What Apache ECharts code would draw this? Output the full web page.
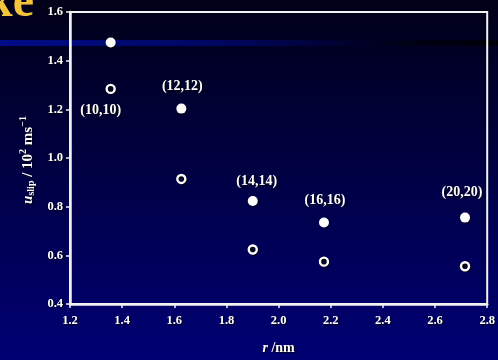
<!DOCTYPE html>
<html>
<head>
<meta charset="utf-8">
<style>
  html, body { margin: 0; padding: 0; background: #000030; }
  #chart { width: 498px; height: 360px; }
</style>
<script src="https://cdn.jsdelivr.net/npm/echarts@6/dist/echarts.min.js"></script>
</head>
<body>
<div id="chart"></div>
<script>
// Nanotube radius (nm) and slip velocity (10^2 m/s)
const radius = [1.356, 1.627, 1.901, 2.174, 2.715];
const slipFilled = [1.475, 1.203, 0.823, 0.735, 0.755];
const slipOpen = [1.284, 0.914, 0.624, 0.574, 0.555];
const tubeLabels = ['(10,10)', '(12,12)', '(14,14)', '(16,16)', '(20,20)'];
const xTicks = [1.2, 1.4, 1.6, 1.8, 2.0, 2.2, 2.4, 2.6, 2.8];
const yTicks = [0.4, 0.6, 0.8, 1.0, 1.2, 1.4, 1.6];

const serif = '"Liberation Serif", "DejaVu Serif", serif';
const shadow = { textShadowColor: '#000', textShadowBlur: 2, textShadowOffsetX: 1, textShadowOffsetY: 1 };

// label offsets: chirality tag sits above the filled marker, (10,10) below the open one
const labelOffsets = [[-10, 21], [1, -22], [4, -20], [1, -22], [-3, -25]];

const chart = echarts.init(document.getElementById('chart'), null, { renderer: 'canvas' });

const filledData = radius.map((r, i) => ({
  value: [r, slipFilled[i]],
  label: i === 0 ? { show: false } : { show: true, formatter: tubeLabels[i], offset: labelOffsets[i] }
}));
const openData = radius.map((r, i) => ({
  value: [r, slipOpen[i]],
  label: i === 0 ? { show: true, formatter: tubeLabels[i], offset: labelOffsets[i] } : { show: false }
}));

const labelStyle = Object.assign({
  position: 'inside', color: '#fff', fontFamily: serif, fontSize: 14, fontWeight: 'bold'
}, shadow);

chart.setOption({
  backgroundColor: {
    type: 'linear', x: 0, y: 0, x2: 0, y2: 1,
    colorStops: [
      { offset: 0, color: '#000018' },
      { offset: 0.5, color: '#000046' },
      { offset: 1, color: '#000074' }
    ]
  },
  animation: false,
  grid: {
    left: 70, right: 8, top: 12, bottom: 53,
    show: true, borderColor: '#f2f2f2', borderWidth: 2, backgroundColor: 'transparent'
  },
  xAxis: {
    type: 'value', min: 1.2, max: 2.8, interval: 0.2,
    axisLine: { show: true, lineStyle: { color: '#f2f2f2', width: 2.5 } },
    axisTick: { show: true, length: 4, lineStyle: { color: '#f2f2f2', width: 1.5 } },
    splitLine: { show: false },
    axisLabel: Object.assign({
      color: '#fff', fontFamily: serif, fontSize: 12.5, fontWeight: 'bold', margin: 10,
      formatter: v => xTicks.find(t => Math.abs(t - v) < 1e-6).toFixed(1)
    }, shadow),
    name: '{i|r} /nm', nameLocation: 'middle', nameGap: 37,
    nameTextStyle: Object.assign({
      color: '#fff', fontFamily: serif, fontSize: 14, fontWeight: 'bold',
      rich: { i: { fontStyle: 'italic', fontFamily: serif, fontSize: 14, fontWeight: 'bold', color: '#fff' } }
    }, shadow)
  },
  yAxis: {
    type: 'value', min: 0.4, max: 1.6, interval: 0.2,
    axisLine: { show: true, lineStyle: { color: '#f2f2f2', width: 2.5 } },
    axisTick: { show: true, length: 4, lineStyle: { color: '#f2f2f2', width: 1.5 } },
    splitLine: { show: false },
    axisLabel: Object.assign({
      color: '#fff', fontFamily: serif, fontSize: 12.5, fontWeight: 'bold', margin: 7,
      formatter: v => yTicks.find(t => Math.abs(t - v) < 1e-6).toFixed(1)
    }, shadow)
  },
  graphic: [
    {
      // blue highlight band behind the plot
      type: 'rect', z: -10, silent: true,
      shape: { x: 0, y: 40, width: 498, height: 6 },
      style: {
        fill: {
          type: 'linear', x: 0, y: 0, x2: 1, y2: 0,
          colorStops: [
            { offset: 0, color: '#000c88' },
            { offset: 0.45, color: '#000660' },
            { offset: 0.8, color: '#000018' },
            { offset: 1, color: '#000008' }
          ]
        }
      }
    },
    {
      type: 'text', z: 5, silent: true,
      x: 34, y: 28,
      style: {
        text: 'ke', fill: '#f4c43c', font: 'bold 48px ' + serif,
        align: 'right', verticalAlign: 'bottom'
      }
    },
    {
      // y-axis title, rotated
      type: 'text', z: 5, silent: true,
      x: 27, y: 160, rotation: Math.PI / 2,
      style: Object.assign({
        text: '{i|u}{sub|slip}{n| / 10}{sup|2}{n| ms}{sup|−1}',
        align: 'center', verticalAlign: 'middle',
        rich: {
          i: { fontFamily: serif, fontStyle: 'italic', fontWeight: 'bold', fontSize: 15, fill: '#fff', verticalAlign: 'bottom' },
          sub: { fontFamily: serif, fontWeight: 'bold', fontSize: 10, fill: '#fff', padding: [6, 0, 0, 0], verticalAlign: 'bottom' },
          n: { fontFamily: serif, fontWeight: 'bold', fontSize: 15, fill: '#fff', verticalAlign: 'bottom' },
          sup: { fontFamily: serif, fontWeight: 'bold', fontSize: 10, fill: '#fff', padding: [0, 0, 8, 0], verticalAlign: 'bottom' }
        }
      }, shadow)
    }
  ],
  series: [
    {
      name: 'filled', type: 'scatter', symbol: 'circle', symbolSize: 10,
      itemStyle: { color: '#ffffff', opacity: 1, shadowColor: 'rgba(0,0,0,0.7)', shadowBlur: 0, shadowOffsetX: 1, shadowOffsetY: 1 },
      label: labelStyle,
      data: filledData
    },
    {
      name: 'open', type: 'scatter', symbol: 'circle', symbolSize: 8,
      itemStyle: { color: '#08082a', opacity: 1, borderColor: '#ffffff', borderWidth: 2.4, shadowColor: 'rgba(0,0,0,0.7)', shadowBlur: 0, shadowOffsetX: 1, shadowOffsetY: 1 },
      label: labelStyle,
      data: openData
    }
  ]
});
</script>
</body>
</html>
